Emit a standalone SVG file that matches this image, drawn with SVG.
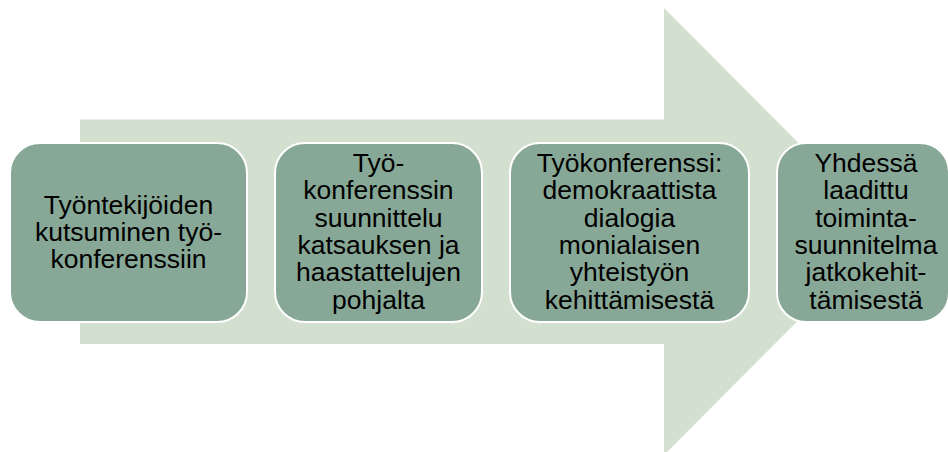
<svg xmlns="http://www.w3.org/2000/svg" width="948" height="452" viewBox="0 0 948 452">
<style>
.box{fill:#88a897;stroke:#ffffff;stroke-width:2}
.t{font-family:"Liberation Sans",Arial,sans-serif;font-size:26.5px;fill:#000000;text-anchor:middle}
</style>
<rect width="948" height="452" fill="#ffffff"/>
<g id="arrow">
<polygon points="80,119.5 664,119.5 664,8 887,231.5 664,455 664,344 80,344" fill="#d3e0d0"/>
</g>
<g id="connectors"></g>
<g id="node1">
<rect class="box" x="10" y="143" width="237" height="179" rx="30" ry="30"/>
<text class="t" x="128.5"><tspan x="128.5" y="213.5">Työntekijöiden</tspan><tspan x="128.5" y="240.8">kutsuminen työ-</tspan><tspan x="128.5" y="268.1">konferenssiin</tspan></text>
</g>
<g id="node2">
<rect class="box" x="275" y="143" width="207" height="179" rx="30" ry="30"/>
<text class="t"><tspan x="378.5" y="172">Työ-</tspan><tspan x="378.5" y="199.3">konferenssin</tspan><tspan x="378.5" y="226.6">suunnittelu</tspan><tspan x="378.5" y="253.9">katsauksen ja</tspan><tspan x="378.5" y="281.2">haastattelujen</tspan><tspan x="378.5" y="308.5">pohjalta</tspan></text>
</g>
<g id="node3">
<rect class="box" x="510" y="143" width="239" height="179" rx="30" ry="30"/>
<text class="t"><tspan x="629.5" y="172">Työkonferenssi:</tspan><tspan x="629.5" y="199.3">demokraattista</tspan><tspan x="629.5" y="226.6">dialogia</tspan><tspan x="629.5" y="253.9">monialaisen</tspan><tspan x="629.5" y="281.2">yhteistyön</tspan><tspan x="629.5" y="308.5">kehittämisestä</tspan></text>
</g>
<g id="node4">
<rect class="box" x="777" y="143" width="172" height="179" rx="29" ry="29"/>
<text class="t"><tspan x="866" y="172">Yhdessä</tspan><tspan x="866" y="199.3">laadittu</tspan><tspan x="866" y="226.6">toiminta-</tspan><tspan x="866" y="253.9">suunnitelma</tspan><tspan x="866" y="281.2">jatkokehit-</tspan><tspan x="866" y="308.5">tämisestä</tspan></text>
</g>
</svg>
